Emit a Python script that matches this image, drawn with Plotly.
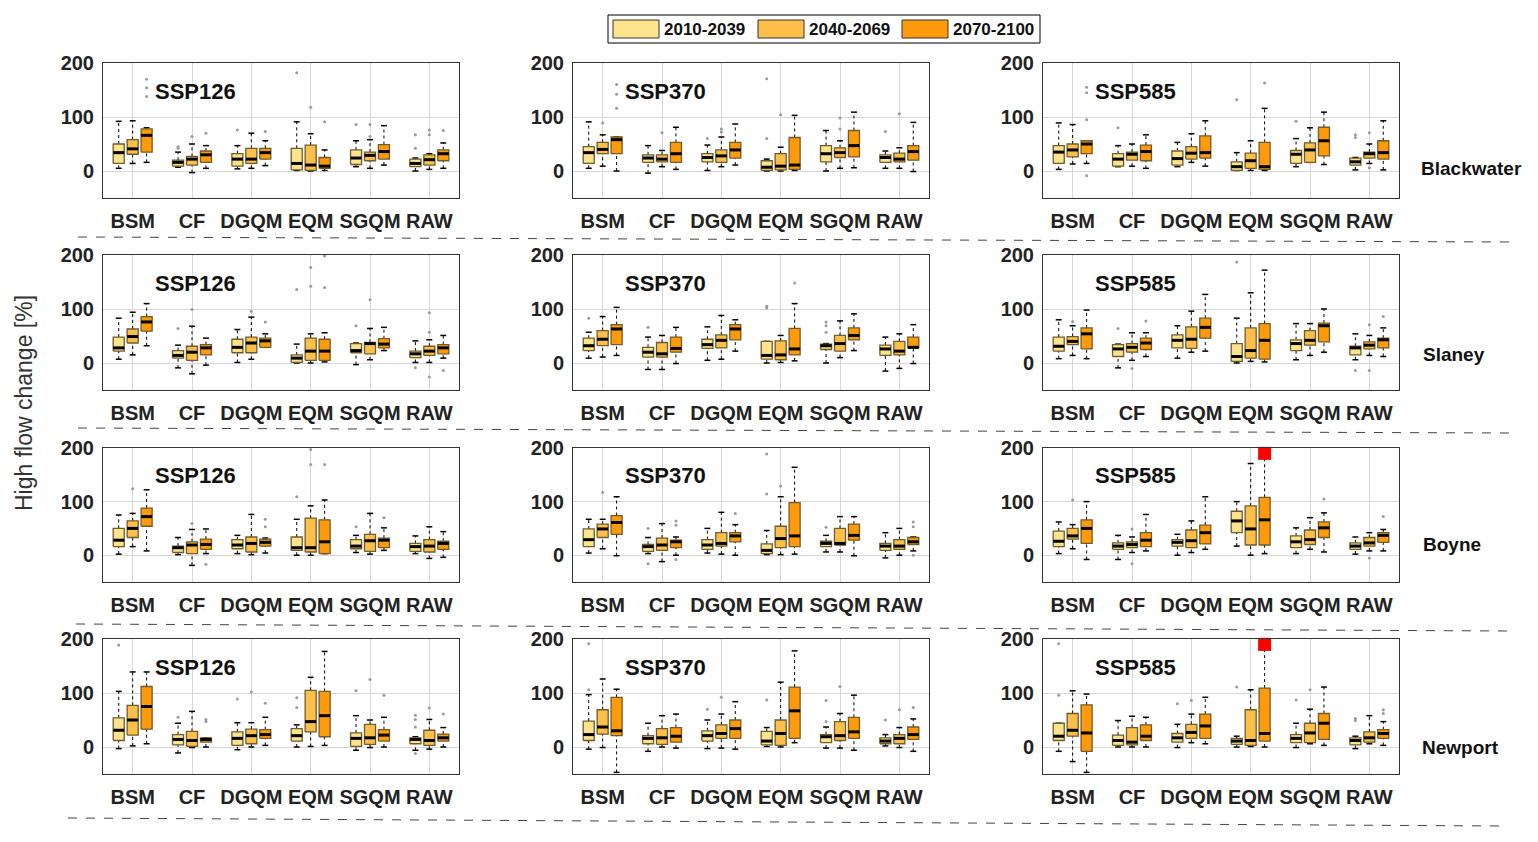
import plotly.graph_objects as go
from plotly.subplots import make_subplots

methods = ["BSM", "CF", "DGQM", "EQM", "SGQM", "RAW"]
periods = ["2010-2039", "2040-2069", "2070-2100"]
rivers = ["Blackwater", "Slaney", "Boyne", "Newport"]
scenarios = ["SSP126", "SSP370", "SSP585"]

# each tuple: (lower whisker, q1, median, q3, upper whisker)
# order: BSM p1,p2,p3, CF p1,p2,p3, DGQM ..., EQM ..., SGQM ..., RAW ...
blackwater_ssp126 = [
    (5, 14, 34, 50, 92), (14, 31, 41, 58, 93), (16, 35, 66, 78, 80),
    (7, 9, 16, 20, 35), (-3, 11, 22, 27, 50), (5, 16, 30, 37, 47),
    (4, 9, 22, 32, 47), (5, 14, 22, 42, 70), (10, 22, 34, 42, 56),
    (1, 2, 14, 42, 91), (0, 1, 11, 48, 69), (1, 5, 9, 25, 39),
    (8, 12, 24, 39, 56), (5, 19, 29, 35, 58), (11, 22, 36, 49, 84),
    (0, 8, 14, 22, 24), (3, 11, 21, 30, 32), (5, 19, 32, 39, 52)]
blackwater_ssp370 = [
    (5, 14, 34, 45, 91), (9, 32, 40, 53, 67), (0, 32, 58, 63, 63),
    (-4, 16, 24, 30, 47), (8, 17, 22, 30, 38), (3, 16, 32, 53, 81),
    (1, 17, 25, 32, 48), (8, 16, 28, 39, 63), (11, 24, 39, 53, 87),
    (0, 1, 7, 19, 22), (0, 2, 9, 32, 44), (1, 3, 11, 62, 103),
    (0, 17, 32, 47, 75), (5, 25, 34, 43, 56), (6, 26, 47, 75, 109),
    (5, 16, 25, 30, 37), (5, 17, 22, 33, 43), (-1, 20, 36, 47, 90)]
blackwater_ssp585 = [
    (3, 14, 35, 47, 89), (13, 26, 39, 50, 86), (14, 32, 50, 56, 56),
    (8, 9, 22, 32, 47), (9, 20, 31, 35, 50), (5, 19, 36, 48, 67),
    (8, 11, 23, 37, 53), (16, 22, 33, 45, 69), (9, 24, 34, 65, 93),
    (1, 1, 8, 17, 34), (1, 5, 19, 33, 56), (1, 3, 8, 53, 116),
    (8, 14, 31, 38, 60), (16, 16, 39, 52, 80), (12, 28, 56, 81, 109),
    (2, 11, 17, 24, 25), (14, 24, 32, 35, 50), (2, 22, 34, 56, 93)]
slaney_ssp126 = [
    (7, 22, 28, 48, 83), (15, 37, 49, 63, 94), (32, 59, 76, 86, 110),
    (-9, 9, 14, 23, 33), (-20, 5, 20, 31, 68), (-4, 15, 28, 34, 46),
    (1, 19, 29, 44, 62), (7, 19, 37, 48, 85), (29, 29, 41, 46, 54),
    (0, 1, 9, 15, 35), (0, 5, 22, 46, 54), (2, 5, 22, 44, 56),
    (-3, 19, 23, 36, 37), (6, 17, 36, 38, 64), (23, 28, 35, 45, 66),
    (1, 10, 17, 22, 41), (1, 14, 22, 31, 43), (9, 17, 28, 34, 51)]
slaney_ssp370 = [
    (9, 23, 32, 46, 57), (11, 32, 44, 60, 86), (14, 34, 63, 71, 103),
    (-12, 11, 20, 29, 48), (-12, 11, 17, 38, 51), (-1, 20, 27, 48, 66),
    (5, 27, 34, 44, 67), (7, 28, 42, 52, 88), (22, 43, 63, 71, 80),
    (0, 7, 14, 40, 40), (1, 6, 15, 41, 51), (4, 15, 26, 64, 110),
    (0, 25, 32, 35, 36), (10, 22, 36, 51, 78), (23, 43, 51, 65, 91),
    (-15, 14, 26, 33, 48), (-10, 15, 22, 40, 54), (-1, 28, 29, 48, 71)]
slaney_ssp585 = [
    (8, 22, 31, 48, 80), (14, 34, 40, 49, 69), (8, 26, 54, 65, 98),
    (-9, 12, 26, 34, 35), (5, 20, 29, 36, 56), (12, 25, 37, 46, 56),
    (9, 28, 42, 52, 69), (20, 27, 44, 67, 96), (22, 46, 66, 83, 127),
    (0, 3, 12, 36, 83), (3, 9, 23, 65, 130), (2, 7, 42, 73, 172),
    (6, 23, 36, 43, 73), (14, 33, 42, 60, 73), (20, 39, 69, 74, 100),
    (6, 15, 28, 31, 54), (14, 26, 33, 39, 51), (12, 28, 43, 46, 65)]
boyne_ssp126 = [
    (2, 16, 28, 50, 75), (16, 33, 50, 64, 78), (8, 54, 72, 88, 122),
    (1, 5, 14, 17, 33), (-19, 3, 19, 25, 48), (3, 11, 20, 30, 49),
    (3, 12, 19, 29, 37), (1, 6, 22, 34, 76), (4, 17, 24, 30, 32),
    (0, 9, 14, 34, 67), (0, 6, 14, 69, 92), (3, 3, 25, 66, 103),
    (5, 12, 17, 29, 37), (2, 7, 27, 39, 78), (9, 14, 28, 32, 51),
    (3, 7, 16, 22, 36), (-6, 6, 17, 29, 53), (-4, 11, 22, 26, 44)]
boyne_ssp370 = [
    (4, 16, 29, 49, 67), (12, 33, 49, 58, 67), (-1, 39, 61, 74, 109),
    (3, 7, 16, 20, 33), (-12, 9, 19, 32, 59), (0, 14, 25, 28, 34),
    (4, 11, 19, 29, 50), (2, 17, 22, 42, 80), (0, 25, 36, 42, 57),
    (1, 3, 9, 21, 46), (1, 14, 31, 54, 109), (2, 16, 36, 98, 164),
    (6, 16, 22, 26, 37), (6, 19, 22, 50, 72), (-1, 28, 37, 58, 72),
    (-5, 9, 17, 22, 42), (0, 11, 17, 29, 50), (8, 20, 25, 33, 34)]
boyne_ssp585 = [
    (3, 16, 26, 45, 62), (12, 30, 36, 50, 57), (-8, 22, 50, 66, 100),
    (-8, 11, 17, 23, 37), (5, 14, 20, 25, 34), (8, 16, 28, 42, 76),
    (0, 17, 24, 29, 39), (5, 14, 27, 47, 64), (11, 21, 42, 56, 109),
    (17, 42, 64, 82, 100), (0, 19, 49, 92, 171), (3, 19, 66, 108, 240),
    (3, 14, 25, 36, 51), (11, 20, 29, 47, 70), (6, 33, 51, 62, 79),
    (2, 11, 17, 23, 34), (8, 17, 23, 33, 42), (8, 24, 37, 42, 48)]
newport_ssp126 = [
    (-3, 12, 31, 54, 103), (2, 22, 50, 77, 139), (6, 33, 75, 112, 139),
    (-11, 4, 14, 23, 44), (-1, 1, 12, 29, 66), (0, 9, 14, 17, 17),
    (-5, 3, 16, 28, 45), (0, 6, 21, 33, 45), (3, 16, 23, 32, 55),
    (0, 11, 21, 34, 41), (1, 28, 47, 105, 129), (3, 19, 58, 103, 177),
    (-6, 1, 16, 26, 58), (-1, 5, 17, 42, 50), (0, 11, 22, 32, 55),
    (-6, 6, 14, 17, 19), (-4, 3, 12, 31, 51), (0, 11, 17, 24, 36)]
newport_ssp370 = [
    (-4, 12, 23, 48, 97), (-1, 24, 37, 69, 126), (-47, 21, 30, 92, 107),
    (-8, 6, 16, 21, 44), (0, 5, 17, 34, 58), (-2, 9, 20, 36, 61),
    (-3, 11, 21, 30, 50), (-2, 16, 25, 41, 61), (-4, 16, 34, 50, 84),
    (1, 4, 11, 29, 36), (0, 3, 25, 50, 120), (8, 16, 67, 111, 178),
    (-2, 8, 19, 23, 37), (-2, 12, 21, 47, 62), (-6, 16, 28, 55, 96),
    (2, 6, 11, 17, 23), (-1, 6, 16, 23, 36), (-8, 14, 23, 37, 52)]
newport_ssp585 = [
    (-8, 12, 20, 44, 44), (-27, 20, 31, 62, 104), (-47, -8, 26, 78, 98),
    (0, 3, 12, 22, 49), (0, 4, 9, 36, 57), (0, 12, 20, 41, 55),
    (-1, 9, 17, 25, 42), (8, 16, 27, 42, 61), (6, 16, 39, 61, 92),
    (0, 5, 11, 16, 20), (1, 3, 12, 69, 106), (0, 11, 25, 109, 240),
    (-1, 8, 16, 23, 44), (6, 8, 26, 44, 70), (3, 14, 44, 62, 111),
    (-3, 4, 12, 17, 20), (6, 9, 17, 28, 58), (3, 16, 25, 32, 47)]

# outliers: (method index, period index, value)
blackwater_ssp126_out = [(0, 2, 170), (0, 2, 154), (0, 2, 138), (1, 0, 45), (1, 0, 42), (1, 1, 64), (1, 2, 70),
                         (2, 0, 76), (2, 2, 73), (3, 0, 182), (3, 1, 118), (3, 2, 91), (4, 0, 86), (4, 1, 86),
                         (4, 1, 64), (5, 0, 67), (5, 0, 42), (5, 1, 76), (5, 1, 67), (5, 2, 75)]
blackwater_ssp370_out = [(0, 1, 89), (0, 2, 160), (0, 2, 142), (0, 2, 116), (1, 1, 71), (2, 0, 60), (2, 1, 78),
                         (2, 1, 72), (3, 0, 171), (3, 0, 60), (3, 1, 104), (4, 1, 98), (4, 1, 78), (5, 0, 73),
                         (5, 1, 106)]
blackwater_ssp585_out = [(0, 2, 155), (0, 2, 145), (0, 2, 95), (0, 2, -9), (1, 0, 80), (3, 0, 132), (3, 2, 163),
                         (4, 0, 92), (5, 0, 67), (5, 0, 62), (5, 1, 71), (5, 1, 6)]
slaney_ssp126_out = [(1, 0, 64), (1, 1, 99), (2, 1, 96), (2, 2, 76), (3, 0, 136), (3, 1, 177), (3, 1, 142),
                     (3, 2, 198), (3, 2, 140), (4, 0, 69), (4, 1, 117), (5, 0, -9), (5, 1, 93), (5, 1, 57),
                     (5, 1, -26), (5, 2, -14)]
slaney_ssp370_out = [(0, 0, 83), (1, 0, 66), (3, 0, 105), (3, 0, 102), (3, 2, 148), (4, 0, 76), (4, 0, 69),
                     (4, 0, 57)]
slaney_ssp585_out = [(0, 1, 77), (1, 0, 64), (1, 1, -10), (1, 2, 78), (3, 0, 187), (5, 0, -14), (5, 1, 71),
                     (5, 1, -14), (5, 2, 86)]
boyne_ssp126_out = [(0, 1, 124), (1, 1, 59), (1, 2, -17), (2, 2, 67), (2, 2, 53), (3, 0, 109), (3, 1, 197),
                    (3, 1, 169), (3, 2, 169), (4, 0, 53), (4, 2, 70)]
boyne_ssp370_out = [(0, 1, 117), (1, 0, 50), (1, 0, -16), (1, 2, 64), (1, 2, 56), (1, 2, -8), (2, 2, 78),
                    (3, 0, 189), (3, 0, 114), (3, 1, 129), (4, 0, 52), (5, 2, 62), (5, 2, 53), (5, 2, 0)]
boyne_ssp585_out = [(0, 1, 103), (1, 1, 49), (1, 1, -16), (4, 2, 105), (5, 1, -5), (5, 2, 72)]
newport_ssp126_out = [(0, 0, 189), (1, 0, 55), (1, 2, 51), (1, 2, 47), (2, 0, 89), (2, 1, 102), (2, 2, 81),
                      (3, 0, 91), (3, 0, 73), (4, 0, 104), (4, 1, 125), (4, 2, 96), (5, 0, 59), (5, 0, 51),
                      (5, 0, 37), (5, 0, -12), (5, 1, 72), (5, 2, 61)]
newport_ssp370_out = [(0, 0, 191), (0, 0, 106), (2, 0, 70), (2, 1, 92), (3, 0, 87), (4, 0, 86), (4, 0, 47),
                      (4, 1, 112), (5, 0, 50), (5, 1, 69), (5, 2, 73)]
newport_ssp585_out = [(0, 0, 191), (0, 0, 96), (2, 0, 80), (2, 1, 86), (3, 0, 111), (4, 0, 87), (4, 1, 106),
                      (5, 0, 53), (5, 0, 49), (5, 2, 69), (5, 2, 62)]

panels = [
    [(blackwater_ssp126, blackwater_ssp126_out), (blackwater_ssp370, blackwater_ssp370_out), (blackwater_ssp585, blackwater_ssp585_out)],
    [(slaney_ssp126, slaney_ssp126_out), (slaney_ssp370, slaney_ssp370_out), (slaney_ssp585, slaney_ssp585_out)],
    [(boyne_ssp126, boyne_ssp126_out), (boyne_ssp370, boyne_ssp370_out), (boyne_ssp585, boyne_ssp585_out)],
    [(newport_ssp126, newport_ssp126_out), (newport_ssp370, newport_ssp370_out), (newport_ssp585, newport_ssp585_out)],
]

Y_RANGE = [-50, 200]
colors = ["#FDE38C", "#FCC04A", "#FF9A0A"]
edge = "#6f5c2c"
font_family = "Liberation Sans, Arial, Helvetica, sans-serif"
offsets = [-0.235, 0.0, 0.235]
hw, cw = 0.093, 0.05

# page has an 8px body margin; work in screen pixels and convert
OFF = 8
W, H = 1538 - OFF, 842 - OFF


def fx(px):
    return (px - OFF) / W


def fy(py):
    return 1 - (py - OFF) / H


x_dom = [(103, 459), (573, 929), (1043, 1399)]
y_dom = [(63, 198), (255, 390), (448, 582), (639, 774)]

fig = make_subplots(rows=4, cols=3)

for r in range(4):
    for c in range(3):
        k = r * 3 + c + 1
        xa = "x" if k == 1 else f"x{k}"
        ya = "y" if k == 1 else f"y{k}"
        stats, outs = panels[r][c]
        for p in range(3):
            bx, by, wx, wy, capx, capy, mx, my = [], [], [], [], [], [], [], []
            for m in range(6):
                lo, q1, med, q3, hi = stats[m * 3 + p]
                cx = m + 1 + offsets[p]
                bx += [cx - hw, cx + hw, cx + hw, cx - hw, cx - hw, None]
                by += [q1, q1, q3, q3, q1, None]
                wx += [cx, cx, None, cx, cx, None]
                wy += [q3, hi, None, lo, q1, None]
                capx += [cx - cw, cx + cw, None, cx - cw, cx + cw, None]
                capy += [hi, hi, None, lo, lo, None]
                mx += [cx - hw, cx + hw, None]
                my += [med, med, None]
            fig.add_trace(go.Scatter(x=wx, y=wy, mode="lines", line=dict(color="black", width=1, dash="dot"),
                                     showlegend=False, hoverinfo="skip", xaxis=xa, yaxis=ya))
            fig.add_trace(go.Scatter(x=capx, y=capy, mode="lines", line=dict(color="black", width=1.5),
                                     showlegend=False, hoverinfo="skip", xaxis=xa, yaxis=ya))
            fig.add_trace(go.Scatter(x=bx, y=by, mode="lines", fill="toself", fillcolor=colors[p],
                                     line=dict(color=edge, width=1.3), name=periods[p],
                                     legendgroup=periods[p], showlegend=False, xaxis=xa, yaxis=ya))
            fig.add_trace(go.Scatter(x=mx, y=my, mode="lines", line=dict(color="black", width=3),
                                     showlegend=False, hoverinfo="skip", xaxis=xa, yaxis=ya))
        ox = [m + 1 + offsets[p] for (m, p, v) in outs]
        oy = [v for (m, p, v) in outs]
        fig.add_trace(go.Scatter(x=ox, y=oy, mode="markers", marker=dict(color="#9a9a9a", size=3),
                                 showlegend=False, xaxis=xa, yaxis=ya))
        # red marker for whiskers exceeding the axis range
        rx = [m + 1 + offsets[p] for m in range(6) for p in range(3) if stats[m * 3 + p][4] > Y_RANGE[1]]
        if rx:
            fig.add_trace(go.Scatter(x=rx, y=[190] * len(rx), mode="markers", cliponaxis=False,
                                     marker=dict(color="#ff0000", size=13, symbol="square"),
                                     showlegend=False, xaxis=xa, yaxis=ya))
        # scenario label
        fig.add_annotation(text=f"<b>{scenarios[c]}</b>", xref=f"{xa} domain", yref=ya,
                           x=0.26, y=148, xanchor="center", yanchor="middle", showarrow=False,
                           font=dict(size=22, color="#111", family=font_family))
        x0, x1 = x_dom[c]
        y0, y1 = y_dom[r]
        axis_common = dict(showline=True, linecolor="#333", linewidth=1, mirror=True, automargin=False,
                           showgrid=True, gridcolor="#d8d8d8", gridwidth=1, zeroline=False,
                           tickfont=dict(size=20, color="#222", family=font_family))
        fig.layout[f"xaxis{k}"].update(domain=[fx(x0), fx(x1)], range=[0.5, 6.5], tickvals=list(range(1, 7)),
                                       ticktext=[f"<b>{t}</b>" for t in methods], ticks="outside", ticklen=5,
                                       tickcolor="rgba(0,0,0,0)", **axis_common)
        fig.layout[f"yaxis{k}"].update(domain=[fy(y1), fy(y0)], range=Y_RANGE, tickvals=[0, 100, 200],
                                       ticktext=["<b>0</b>", "<b>100</b>", "<b>200</b>"], ticks="outside",
                                       ticklen=4, tickcolor="rgba(0,0,0,0)", **axis_common)

# river labels
river_pos = [(1471, 168), (1454, 354), (1452, 544), (1460, 747)]
for name, (px, py) in zip(rivers, river_pos):
    fig.add_annotation(text=f"<b>{name}</b>", xref="paper", yref="paper", x=fx(px), y=fy(py),
                       xanchor="center", yanchor="middle", showarrow=False,
                       font=dict(size=19, color="#111", family=font_family))

# y-axis title
fig.add_annotation(text="High flow change [%]", xref="paper", yref="paper", x=fx(24), y=fy(403),
                   xanchor="center", yanchor="middle", textangle=-90, showarrow=False,
                   font=dict(size=23, color="#333", family=font_family))

# dashed row separators
seps = [((78, 237), (1510, 242)), ((78, 428), (1512, 433)), ((76, 624), (1507, 631)), ((68, 818), (1503, 826))]
for (ax0, ay0), (ax1, ay1) in seps:
    fig.add_shape(type="line", xref="paper", yref="paper", x0=fx(ax0), y0=fy(ay0), x1=fx(ax1), y1=fy(ay1),
                  line=dict(color="#444", width=1, dash="dash"))

# legend (period key) drawn at top centre
fig.add_shape(type="rect", xref="paper", yref="paper", x0=fx(608), x1=fx(1040), y0=fy(43), y1=fy(15),
              line=dict(color="black", width=1), fillcolor="white")
leg_x = [613, 758, 902]
for p in range(3):
    sx = leg_x[p]
    fig.add_shape(type="rect", xref="paper", yref="paper", x0=fx(sx), x1=fx(sx + 46), y0=fy(38), y1=fy(20),
                  line=dict(color="#333", width=1), fillcolor=colors[p])
    fig.add_annotation(text=f"<b>{periods[p]}</b>", xref="paper", yref="paper", x=fx(sx + 49), y=fy(30),
                       xanchor="left", yanchor="middle", showarrow=False,
                       font=dict(size=17, color="#111", family=font_family))

fig.update_layout(
    width=W, height=H, margin=dict(l=0, r=0, t=0, b=0, autoexpand=False),
    paper_bgcolor="white", plot_bgcolor="white", showlegend=False,
    font=dict(family=font_family),
)

fig.write_html("out.html")
